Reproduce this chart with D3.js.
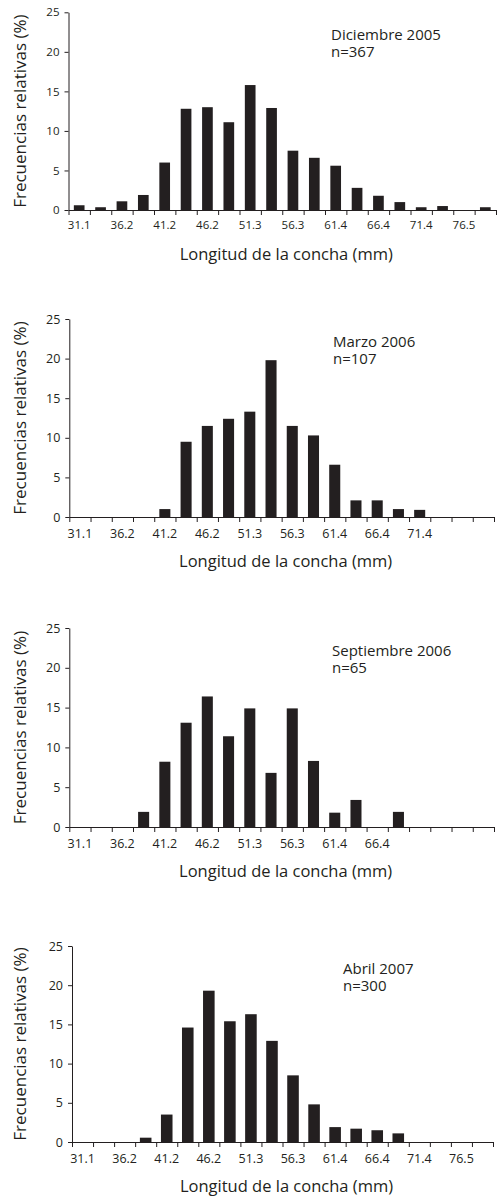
<!DOCTYPE html>
<html>
<head>
<meta charset="utf-8">
<script src="https://cdnjs.cloudflare.com/ajax/libs/d3/7.8.5/d3.min.js"></script>
<style>
  body { margin: 0; background: #fff; }
  svg text { font-family: "Open Sans", sans-serif; fill: #231f20; }
</style>
</head>
<body>
<div id="chart"></div>
<script>
// size classes, shell length (mm)
var categories = ["31.1","33.6","36.2","38.7","41.2","43.7","46.2","48.7","51.3","53.8",
                  "56.3","58.8","61.4","63.9","66.4","68.9","71.4","74.0","76.5","79.0"];
var tickLabels = ["31.1","36.2","41.2","46.2","51.3","56.3","61.4","66.4","71.4","76.5"];
var yTicks = [0, 5, 10, 15, 20, 25];

// relative frequencies (%) per sample
var dic2005 = [0.6, 0.35, 1.1, 1.9, 6.0, 12.8, 13.0, 11.1, 15.8, 12.9, 7.5, 6.6, 5.6, 2.8, 1.8, 1.0, 0.35, 0.5, 0, 0.35];
var mar2006 = [0, 0, 0, 0, 1.0, 9.5, 11.5, 12.4, 13.3, 19.8, 11.5, 10.3, 6.6, 2.1, 2.1, 1.0, 0.9, 0, 0, 0];
var sep2006 = [0, 0, 0, 1.9, 8.2, 13.1, 16.4, 11.4, 14.9, 6.8, 14.9, 8.3, 1.8, 3.4, 0, 1.9, 0, 0, 0, 0];
var abr2007 = [0, 0, 0, 0.55, 3.5, 14.6, 19.3, 15.4, 16.3, 12.9, 8.5, 4.8, 1.9, 1.7, 1.5, 1.1, 0, 0, 0, 0];

var titles = ["Diciembre 2005", "Marzo 2006", "Septiembre 2006", "Abril 2007"];
var sampleSizes = ["n=367", "n=107", "n=65", "n=300"];
var labelCounts = [10, 9, 8, 10];
var series = [dic2005, mar2006, sep2006, abr2007];

var width = 497, height = 1199;

// panel layout
var panels = [
  { top: 12.3, zero: 210, left: 68.5, right: 496, tickFont: 11.5, bar: 0.50, titleX: 331, labelDy: 19 },
  { top: 319,  zero: 517, left: 69.3, right: 494, tickFont: 12.5, bar: 0.52, titleX: 333, labelDy: 21 },
  { top: 628,  zero: 827, left: 69.3, right: 494, tickFont: 12.5, bar: 0.52, titleX: 332, labelDy: 21 },
  { top: 946,  zero: 1142, left: 72,  right: 493, tickFont: 12.5, bar: 0.55, titleX: 343, labelDy: 21 }
];

var svg = d3.select("#chart").append("svg")
  .attr("width", width)
  .attr("height", height);

panels.forEach(function(p, k) {
  var values = series[k];
  var g = svg.append("g");

  var y = d3.scaleLinear().domain([0, 25]).range([p.zero, p.top]);

  // bars centred in equal bands
  var pad = 1 - p.bar;
  var x = d3.scaleBand().domain(categories).range([p.left, p.right])
    .paddingInner(pad).paddingOuter(pad / 2);
  var xb = d3.scaleLinear().domain([0, categories.length]).range([p.left, p.right]);

  g.selectAll(".bar")
    .data(values.map(function(v, i) { return { c: categories[i], v: v }; }))
    .enter()
    .append("rect")
    .attr("class", "bar")
    .attr("x", function(d) { return x(d.c); })
    .attr("width", x.bandwidth())
    .attr("y", function(d) { return y(d.v); })
    .attr("height", function(d) { return p.zero - y(d.v); })
    .style("fill", "#231f20");

  // x axis: ticks at class boundaries
  var xAxis = d3.axisBottom(xb)
    .tickValues(d3.range(categories.length + 1))
    .tickFormat("")
    .tickSize(5)
    .tickSizeOuter(0);
  var gx = g.append("g")
    .attr("transform", "translate(0," + p.zero + ")")
    .call(xAxis);
  gx.selectAll("path, line").attr("stroke", "#231f20");

  // labels on every other class
  var labels = tickLabels.slice(0, labelCounts[k]);
  g.selectAll(".xlab")
    .data(labels)
    .enter()
    .append("text")
    .attr("class", "xlab")
    .attr("x", function(d, i) { return x(categories[i * 2]) + x.bandwidth() / 2; })
    .attr("y", p.zero + p.labelDy)
    .attr("text-anchor", "middle")
    .style("font-size", p.tickFont + "px")
    .text(function(d) { return d; });

  // y axis
  var yAxis = d3.axisLeft(y)
    .tickValues(yTicks)
    .tickSize(4)
    .tickSizeOuter(0)
    .tickPadding(5);
  var gy = g.append("g")
    .attr("transform", "translate(" + p.left + ",0)")
    .call(yAxis);
  gy.selectAll("path, line").attr("stroke", "#231f20");
  gy.selectAll("text")
    .style("font-family", "'Open Sans', sans-serif")
    .style("font-size", p.tickFont + "px")
    .attr("fill", "#231f20");

  // axis titles
  g.append("text")
    .attr("x", (p.left + p.right) / 2 + 4)
    .attr("y", p.zero + 50)
    .attr("text-anchor", "middle")
    .style("font-size", "16.5px")
    .text("Longitud de la concha (mm)");

  g.append("text")
    .attr("transform", "translate(26," + ((p.top + p.zero) / 2) + ") rotate(-90)")
    .attr("text-anchor", "middle")
    .style("font-size", "17px")
    .text("Frecuencias relativas (%)");

  // sample label (two lines in one text block)
  var lab = g.append("text")
    .attr("x", p.titleX)
    .attr("y", p.top + 28)
    .style("font-size", "15px");
  lab.append("tspan")
    .attr("x", p.titleX)
    .text(titles[k]);
  lab.append("tspan")
    .attr("x", p.titleX)
    .attr("dy", 16.5)
    .text(sampleSizes[k]);
});
</script>
</body>
</html>
